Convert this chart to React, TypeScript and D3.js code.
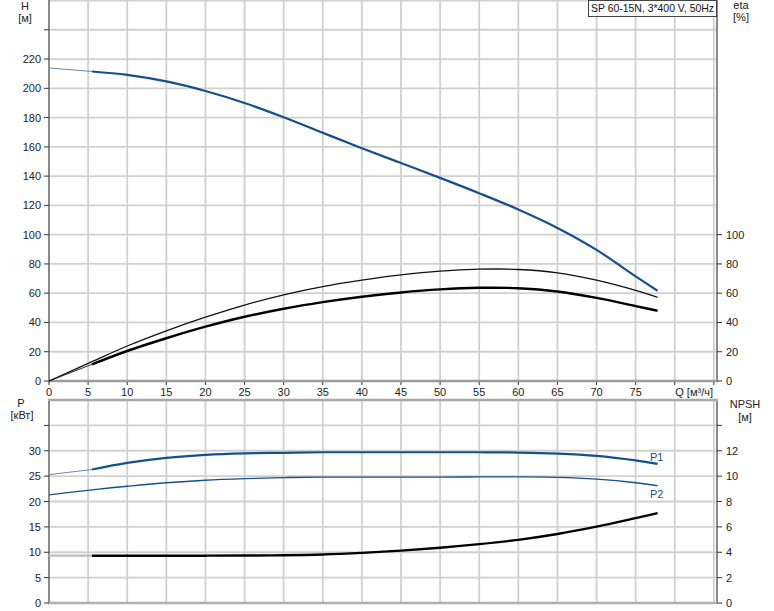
import * as d3 from 'd3';
import React, { useEffect, useRef } from 'react';

// flow points of the duty range (m3/h)
const flow = [5.5, 10, 15, 20, 25, 30, 35, 40, 45, 50, 55, 60, 65, 70, 75, 77.8];
const head = [211.5, 209.2, 204.7, 198.2, 190, 180.2, 169.6, 159.1, 148.9, 138.8, 128.3, 117.2, 104.6, 89.6, 71.5, 61.7];
const etaPump = [13.2, 23.9, 34.3, 43.6, 51.9, 58.9, 64.5, 68.9, 72.5, 75.1, 76.4, 76.2, 73.9, 68.9, 61.9, 57.2];
const etaTotal = [11.4, 20.5, 29.2, 37.1, 43.9, 49.4, 53.9, 57.6, 60.5, 62.6, 63.7, 63.4, 61.2, 56.8, 51.2, 48];
const p1 = [26.3, 27.6, 28.6, 29.2, 29.5, 29.6, 29.7, 29.7, 29.7, 29.7, 29.7, 29.65, 29.45, 29.0, 28.1, 27.4];
const p2 = [22.3, 23.0, 23.7, 24.2, 24.5, 24.7, 24.8, 24.8, 24.8, 24.8, 24.85, 24.85, 24.75, 24.4, 23.7, 23.1];
const npsh = [3.73, 3.73, 3.73, 3.73, 3.74, 3.76, 3.82, 3.95, 4.13, 4.36, 4.64, 4.98, 5.44, 6.02, 6.69, 7.08];

// values at zero flow (extension of the curves)
const head0 = 213.9;
const p10 = 25.3;
const p20 = 21.3;
const npsh0 = 3.73;

const qTicks = [0, 5, 10, 15, 20, 25, 30, 35, 40, 45, 50, 55, 60, 65, 70, 75];
const hTicks = [0, 20, 40, 60, 80, 100, 120, 140, 160, 180, 200, 220];
const etaTicks = [0, 20, 40, 60, 80, 100];
const pTicks = [0, 5, 10, 15, 20, 25, 30];
const npshTicks = [0, 2, 4, 6, 8, 10, 12];

const title = 'SP 60-15N, 3*400 V, 50Hz';

const W = 774;
const H = 611;
const FONT = '"Liberation Sans", Arial, sans-serif';
const BLUE = '#164f8e';

export default function App() {
	const ref = useRef<SVGSVGElement>(null);

	useEffect(() => {
		const svg = d3.select(ref.current);
		svg.selectAll('*').remove();

		const x = d3.scaleLinear().domain([0, 85.4]).range([49, 717]);
		const yH = d3.scaleLinear().domain([0, 260]).range([381, 0.5]);
		const yEta = d3.scaleLinear().domain([0, 100]).range([381, yH(100)]);
		const yP = d3.scaleLinear().domain([0, 40]).range([603, 400]);
		const yN = d3.scaleLinear().domain([0, 16]).range([603, 400]);

		svg.append('rect').attr('width', W).attr('height', H).attr('fill', '#fff');

		const grid = svg.append('g').attr('stroke', '#d0d0d0').attr('stroke-width', 1.8);
		d3.range(5, 86, 5).forEach(q => {
			grid.append('line').attr('x1', x(q)).attr('x2', x(q)).attr('y1', 0).attr('y2', 381);
			grid.append('line').attr('x1', x(q)).attr('x2', x(q)).attr('y1', 400).attr('y2', 603);
		});
		d3.range(20, 261, 20).forEach(v => {
			grid.append('line').attr('x1', 49).attr('x2', 717).attr('y1', yH(v)).attr('y2', yH(v));
		});
		d3.range(5, 36, 5).forEach(v => {
			grid.append('line').attr('x1', 49).attr('x2', 717).attr('y1', yP(v)).attr('y2', yP(v));
		});

		// axes frame
		const ax = svg.append('g').attr('stroke', '#8a8a8a').attr('stroke-width', 2);
		ax.append('line').attr('x1', 49).attr('x2', 49).attr('y1', 0).attr('y2', 382);
		ax.append('line').attr('x1', 717).attr('x2', 717).attr('y1', 0).attr('y2', 382);
		ax.append('line').attr('x1', 48).attr('x2', 718).attr('y1', 381).attr('y2', 381).attr('stroke', '#9a9a9a').attr('stroke-width', 2.5);
		ax.append('line').attr('x1', 49).attr('x2', 49).attr('y1', 399).attr('y2', 604);
		ax.append('line').attr('x1', 717).attr('x2', 717).attr('y1', 399).attr('y2', 604);
		ax.append('line').attr('x1', 48).attr('x2', 718).attr('y1', 400).attr('y2', 400).attr('stroke', '#a8a8a8').attr('stroke-width', 2.5);
		ax.append('line').attr('x1', 48).attr('x2', 718).attr('y1', 603).attr('y2', 603).attr('stroke', '#b0b0b0').attr('stroke-width', 2.5);

		const ticks = svg.append('g').attr('stroke', '#333').attr('stroke-width', 1);
		const txt = svg.append('g').attr('font-family', FONT).attr('font-size', 11).attr('fill', '#222');

		// left H axis
		[...hTicks, 240].forEach(v => {
			ticks.append('line').attr('x1', 44).attr('x2', 49).attr('y1', yH(v)).attr('y2', yH(v));
		});
		hTicks.forEach(v => {
			txt.append('text').attr('x', 41).attr('y', yH(v) + 4).attr('text-anchor', 'end').text(v);
		});
		txt.append('text').attr('x', 25).attr('y', 10).attr('text-anchor', 'middle').text('H');
		txt.append('text').attr('x', 25).attr('y', 22).attr('text-anchor', 'middle').text('[м]');

		// right eta axis
		etaTicks.forEach(v => {
			ticks.append('line').attr('x1', 717).attr('x2', 722).attr('y1', yEta(v)).attr('y2', yEta(v));
			txt.append('text').attr('x', 726).attr('y', yEta(v) + 4).text(v);
		});
		txt.append('text').attr('x', 741).attr('y', 9).attr('text-anchor', 'middle').text('eta');
		txt.append('text').attr('x', 741).attr('y', 21).attr('text-anchor', 'middle').text('[%]');

		// x axis
		[...qTicks, 80, 85].forEach(q => {
			ticks.append('line').attr('x1', x(q)).attr('x2', x(q)).attr('y1', 382).attr('y2', 385);
		});
		qTicks.forEach(q => {
			txt.append('text').attr('x', x(q)).attr('y', 396).attr('text-anchor', 'middle').text(q);
		});
		txt.append('text').attr('x', 713).attr('y', 396).attr('text-anchor', 'end').text('Q [м³/ч]');

		// bottom P axis
		[...pTicks, 35].forEach(v => {
			ticks.append('line').attr('x1', 44).attr('x2', 49).attr('y1', yP(v)).attr('y2', yP(v));
		});
		pTicks.forEach(v => {
			txt.append('text').attr('x', 41).attr('y', yP(v) + 4).attr('text-anchor', 'end').text(v);
		});
		txt.append('text').attr('x', 21).attr('y', 407).attr('text-anchor', 'middle').text('P');
		txt.append('text').attr('x', 22).attr('y', 419).attr('text-anchor', 'middle').text('[кВт]');

		// bottom NPSH axis
		[...npshTicks, 14].forEach(v => {
			ticks.append('line').attr('x1', 717).attr('x2', 722).attr('y1', yN(v)).attr('y2', yN(v));
		});
		npshTicks.forEach(v => {
			txt.append('text').attr('x', 726).attr('y', yN(v) + 4).text(v);
		});
		txt.append('text').attr('x', 745).attr('y', 408).attr('text-anchor', 'middle').text('NPSH');
		txt.append('text').attr('x', 745).attr('y', 421).attr('text-anchor', 'middle').text('[м]');

		// curves
		const draw = (qs: number[], vs: number[], y: any, color: string, w: number) => {
			const line = d3
				.line<number>()
				.x((d, i) => x(qs[i]))
				.y(d => y(d))
				.curve(d3.curveCatmullRom.alpha(0.5));
			svg.append('path')
				.attr('d', line(vs))
				.attr('fill', 'none')
				.attr('stroke', color)
				.attr('stroke-width', w)
				.attr('stroke-linecap', 'butt');
		};

		// extensions to zero flow
		draw([0, flow[0]], [head0, head[0]], yH, '#6d86ad', 1);
		draw([0, flow[0]], [0, etaTotal[0]], yEta, '#333', 1);
		draw([0, flow[0]], [p10, p1[0]], yP, '#6d86ad', 1);
		draw([0, flow[0]], [npsh0, npsh[0]], yN, '#bdbdbd', 2.2);

		draw(flow, head, yH, BLUE, 2.2);
		draw([0, ...flow], [0, ...etaPump], yEta, '#111', 1.3);
		draw(flow, etaTotal, yEta, '#000', 2.4);
		draw(flow, p1, yP, BLUE, 2.2);
		draw([0, ...flow], [p20, ...p2], yP, BLUE, 1.4);
		draw(flow, npsh, yN, '#000', 2.4);

		const lab = svg.append('g').attr('font-family', FONT).attr('font-size', 11).attr('fill', BLUE);
		lab.append('text').attr('x', 650).attr('y', 461).text('P1');
		lab.append('text').attr('x', 650).attr('y', 498).text('P2');

		// title box
		svg.append('rect')
			.attr('x', 588.5)
			.attr('y', 0.5)
			.attr('width', 128)
			.attr('height', 16)
			.attr('fill', '#fff')
			.attr('stroke', '#444');
		txt.raise();
		svg.append('text')
			.attr('x', 591)
			.attr('y', 12)
			.attr('font-family', FONT)
			.attr('font-size', 11)
			.attr('textLength', 123)
			.attr('lengthAdjust', 'spacingAndGlyphs')
			.attr('fill', '#111')
			.text(title);
	}, []);

	return (
		<svg
			ref={ref}
			width={W}
			height={H}
			style={{ position: 'absolute', left: 0, top: 0, display: 'block' }}
		/>
	);
}
